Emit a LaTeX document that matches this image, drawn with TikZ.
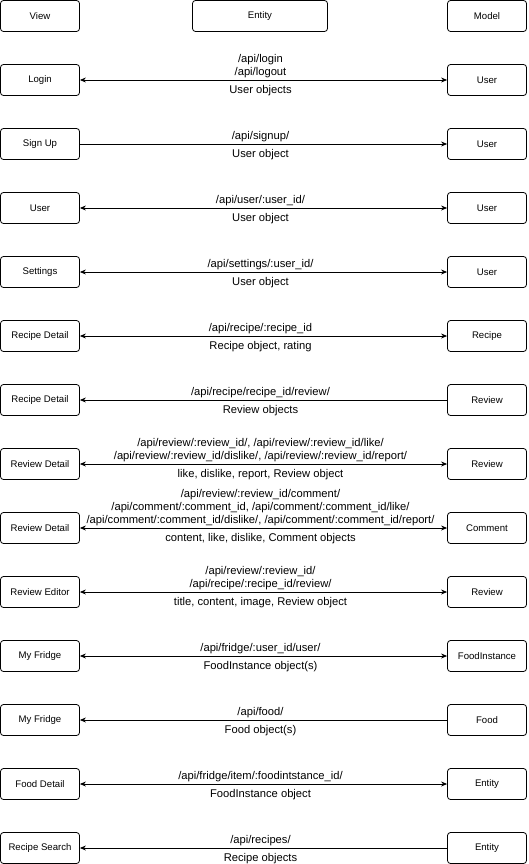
\documentclass[tikz,border=0pt]{standalone}
\usepackage{fontspec}
\setmainfont{Liberation Sans}
\usetikzlibrary{arrows.meta}
\begin{document}
\begin{tikzpicture}[x=1pt,y=-1pt,>={Stealth[length=6pt,width=5pt]},
box/.style={draw,rounded corners=3pt,line width=0.8pt,minimum width=79pt,minimum height=31pt,inner sep=1pt,font=\fontsize{9.6}{11}\selectfont},
widebox/.style={box,minimum width=135pt},
route/.style={line width=0.8pt},
up/.style={anchor=south,align=center,inner sep=0pt,yshift=1.5pt,xshift=-3pt,font=\fontsize{11.2}{13}\selectfont},
down/.style={anchor=north,align=center,inner sep=0pt,yshift=-5pt,xshift=-3pt,font=\fontsize{11.2}{13}\selectfont}]
\useasboundingbox (0,0) rectangle (528,864);
\node[box] (view) at (40,16) {View};
\node[widebox] (entity) at (260,16) {Entity};
\node[box] (model) at (487,16) {Model};

\node[box] (v1) at (40,80) {Login};
\node[box] (m1) at (487,80) {User};
\draw[route,<->] (v1) -- node[up]{/api/login\\/api/logout} node[down]{User objects} (m1);

\node[box] (v2) at (40,144) {Sign Up};
\node[box] (m2) at (487,144) {User};
\draw[route,->] (v2) -- node[up]{/api/signup/} node[down]{User object} (m2);

\node[box] (v3) at (40,208) {User};
\node[box] (m3) at (487,208) {User};
\draw[route,<->] (v3) -- node[up]{/api/user/:user\_id/} node[down]{User object} (m3);

\node[box] (v4) at (40,272) {Settings};
\node[box] (m4) at (487,272) {User};
\draw[route,<->] (v4) -- node[up]{/api/settings/:user\_id/} node[down]{User object} (m4);

\node[box] (v5) at (40,336) {Recipe Detail};
\node[box] (m5) at (487,336) {Recipe};
\draw[route,<->] (v5) -- node[up]{/api/recipe/:recipe\_id} node[down]{Recipe object, rating} (m5);

\node[box] (v6) at (40,400) {Recipe Detail};
\node[box] (m6) at (487,400) {Review};
\draw[route,<-] (v6) -- node[up]{/api/recipe/recipe\_id/review/} node[down]{Review objects} (m6);

\node[box] (v7) at (40,464) {Review Detail};
\node[box] (m7) at (487,464) {Review};
\draw[route,<->] (v7) -- node[up]{/api/review/:review\_id/, /api/review/:review\_id/like/\\/api/review/:review\_id/dislike/, /api/review/:review\_id/report/} node[down]{like, dislike, report, Review object} (m7);

\node[box] (v8) at (40,528) {Review Detail};
\node[box] (m8) at (487,528) {Comment};
\draw[route,<->] (v8) -- node[up]{/api/review/:review\_id/comment/\\/api/comment/:comment\_id, /api/comment/:comment\_id/like/\\/api/comment/:comment\_id/dislike/, /api/comment/:comment\_id/report/} node[down]{content, like, dislike, Comment objects} (m8);

\node[box] (v9) at (40,592) {Review Editor};
\node[box] (m9) at (487,592) {Review};
\draw[route,<->] (v9) -- node[up]{/api/review/:review\_id/\\/api/recipe/:recipe\_id/review/} node[down]{title, content, image, Review object} (m9);

\node[box] (v10) at (40,656) {My Fridge};
\node[box] (m10) at (487,656) {FoodInstance};
\draw[route,<->] (v10) -- node[up]{/api/fridge/:user\_id/user/} node[down]{FoodInstance object(s)} (m10);

\node[box] (v11) at (40,720) {My Fridge};
\node[box] (m11) at (487,720) {Food};
\draw[route,<-] (v11) -- node[up]{/api/food/} node[down]{Food object(s)} (m11);

\node[box] (v12) at (40,784) {Food Detail};
\node[box] (m12) at (487,784) {Entity};
\draw[route,<->] (v12) -- node[up]{/api/fridge/item/:foodintstance\_id/} node[down]{FoodInstance object} (m12);

\node[box] (v13) at (40,848) {Recipe Search};
\node[box] (m13) at (487,848) {Entity};
\draw[route,<-] (v13) -- node[up]{/api/recipes/} node[down]{Recipe objects} (m13);
\end{tikzpicture}
\end{document}
